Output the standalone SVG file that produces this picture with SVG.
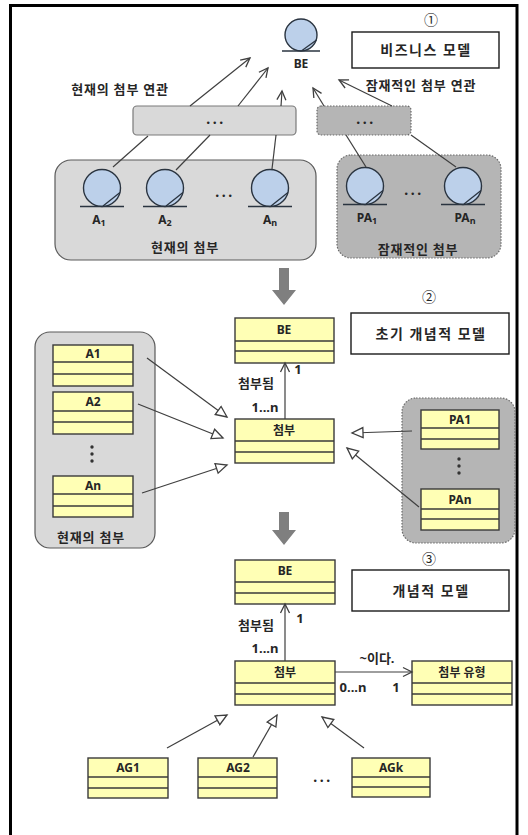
<svg xmlns="http://www.w3.org/2000/svg" width="528" height="835" viewBox="0 0 528 835">
<style>
text{font-family:"Noto Sans","Noto Sans CJK KR",sans-serif;font-weight:bold;fill:#262626;text-anchor:middle}
.t12{font-size:12px}.t13{font-size:13px}.t10{font-size:10px}.t11{font-size:11px}
.ttl{font-size:14px;letter-spacing:1.5px}
.lbl{font-size:13px;letter-spacing:0.8px}
.cn{font-size:12px}
.num{font-size:14px;font-weight:normal}
.dots{font-size:14px;letter-spacing:2.5px}
.cls rect{fill:#ffffb5;stroke:#3a3a3a;stroke-width:1.4}
.cls line{stroke:#3a3a3a;stroke-width:1.4}
.ent circle{fill:#bcd0ea;stroke:#2a3440;stroke-width:1.4}
.ent line{stroke:#2a3440;stroke-width:1.3}
.grpL{fill:#d9d9d9;stroke:#5a5a5a;stroke-width:1.2}
.grpR{fill:#b5b5b5;stroke:#6a6a6a;stroke-width:1.2;stroke-dasharray:1.5 1.5}
.title rect{fill:#fff;stroke:#1a1a1a;stroke-width:1.4}
.conn{stroke:#3f3f3f;stroke-width:1.2;fill:none}
.gray{fill:#7f7f7f}
</style>
<defs>
<marker id="open" markerUnits="userSpaceOnUse" markerWidth="12" markerHeight="12" refX="10" refY="5" orient="auto" viewBox="0 0 12 10"><path d="M1,0.5 L10,5 L1,9.5" fill="none" stroke="#3f3f3f" stroke-width="1.3"/></marker>
<marker id="tri" markerUnits="userSpaceOnUse" markerWidth="14" markerHeight="14" refX="12" refY="6" orient="auto" viewBox="0 0 14 12"><path d="M1,1 L12,6 L1,11 Z" fill="#fff" stroke="#3f3f3f" stroke-width="1.3"/></marker>
</defs>
<rect x="10.5" y="5.5" width="506.5" height="840" fill="none" stroke="#000" stroke-width="3"/>

<!-- Stage 1 -->
<g id="stage1-label"><text x="431" y="25" class="num">①</text></g>
<g id="title1" class="title"><rect x="352" y="32" width="147" height="36"/><text x="426" y="55" class="ttl">비즈니스 모델</text></g>
<g id="BE-entity" class="ent"><circle cx="301" cy="35" r="16"/><line x1="282" y1="51" x2="320" y2="51"/><line x1="302" y1="50.5" x2="316.5" y2="40"/><text x="301" y="68" class="cn">BE</text></g>
<g id="lbl-cur-assoc"><text x="120" y="94" class="lbl">현재의 첨부 연관</text></g>
<g id="lbl-pot-assoc"><text x="421" y="90" class="lbl">잠재적인 첨부 연관</text></g>
<g id="assoc-cur"><rect x="133" y="106" width="163" height="29" rx="4" class="grpL" style="stroke:#7a7a7a"/><text x="216" y="124" class="dots">...</text></g>
<g id="assoc-pot"><rect x="317" y="106" width="94" height="29" rx="4" class="grpR"/><text x="366" y="124" class="dots">...</text></g>
<g id="grp-cur"><rect x="55" y="160" width="261" height="100" rx="16" class="grpL"/><text x="185" y="252" class="lbl">현재의 첨부</text><text x="225" y="197" class="dots">...</text></g>
<g id="grp-pot"><rect x="337" y="155" width="164" height="103" rx="14" class="grpR"/><text x="418" y="254" class="lbl">잠재적인 첨부</text><text x="414" y="195" class="dots">...</text></g>
<g id="A1-entity" class="ent"><circle cx="102" cy="188" r="18.5"/><line x1="80" y1="206.5" x2="124" y2="206.5"/><line x1="103" y1="206" x2="120" y2="192.5"/><text x="99" y="224" class="cn">A<tspan font-size="9" dy="2">1</tspan></text></g>
<g id="A2-entity" class="ent"><circle cx="165" cy="188" r="18.5"/><line x1="143" y1="206.5" x2="187" y2="206.5"/><line x1="166" y1="206" x2="183" y2="192.5"/><text x="165" y="224" class="cn">A<tspan font-size="9" dy="2">2</tspan></text></g>
<g id="An-entity" class="ent"><circle cx="270" cy="188" r="18.5"/><line x1="248" y1="206.5" x2="292" y2="206.5"/><line x1="271" y1="206" x2="288" y2="192.5"/><text x="270" y="224" class="cn">A<tspan font-size="9" dy="2">n</tspan></text></g>
<g id="PA1-entity" class="ent"><circle cx="365" cy="186" r="18.5"/><line x1="343" y1="204.5" x2="387" y2="204.5"/><line x1="366" y1="204" x2="383" y2="190.5"/><text x="367" y="222" class="cn">PA<tspan font-size="9" dy="2">1</tspan></text></g>
<g id="PAn-entity" class="ent"><circle cx="463" cy="186" r="18.5"/><line x1="441" y1="204.5" x2="485" y2="204.5"/><line x1="464" y1="204" x2="481" y2="190.5"/><text x="465" y="222" class="cn">PA<tspan font-size="9" dy="2">n</tspan></text></g>

<!-- Stage 2 -->
<g id="stage2-label"><text x="429" y="302" class="num">②</text></g>
<g id="title2" class="title"><rect x="351" y="313" width="158" height="41"/><text x="431" y="339" class="ttl">초기 개념적 모델</text></g>
<g id="BE2" class="cls"><rect x="235" y="318" width="99" height="45"/><line x1="235" y1="341" x2="334" y2="341"/><line x1="235" y1="351" x2="334" y2="351"/><text x="284" y="334" class="cn">BE</text></g>
<g id="Att2" class="cls"><rect x="235" y="419" width="99" height="44"/><line x1="235" y1="441" x2="334" y2="441"/><line x1="235" y1="452" x2="334" y2="452"/><text x="284" y="435" class="cn">첨부</text></g>
<g id="grp-cur2"><rect x="35" y="332" width="120" height="216" rx="15" class="grpL"/><text x="91" y="542" class="lbl">현재의 첨부</text><circle cx="92" cy="447" r="1.7" fill="#333"/><circle cx="92" cy="454" r="1.7" fill="#333"/><circle cx="92" cy="461" r="1.7" fill="#333"/></g>
<g id="A1c" class="cls"><rect x="53" y="345" width="80" height="41"/><line x1="53" y1="362" x2="133" y2="362"/><line x1="53" y1="374" x2="133" y2="374"/><text x="93" y="358" class="cn">A1</text></g>
<g id="A2c" class="cls"><rect x="53" y="392" width="80" height="42"/><line x1="53" y1="411" x2="133" y2="411"/><line x1="53" y1="422" x2="133" y2="422"/><text x="93" y="406" class="cn">A2</text></g>
<g id="Anc" class="cls"><rect x="53" y="476" width="80" height="41"/><line x1="53" y1="494" x2="133" y2="494"/><line x1="53" y1="506" x2="133" y2="506"/><text x="93" y="490" class="cn">An</text></g>
<g id="grp-pot2"><rect x="402" y="398" width="113" height="145" rx="14" class="grpR"/><circle cx="459" cy="459" r="1.7" fill="#333"/><circle cx="459" cy="466" r="1.7" fill="#333"/><circle cx="459" cy="473" r="1.7" fill="#333"/></g>
<g id="PA1c" class="cls"><rect x="421" y="410" width="78" height="39"/><line x1="421" y1="428" x2="499" y2="428"/><line x1="421" y1="439" x2="499" y2="439"/><text x="460" y="424" class="cn">PA1</text></g>
<g id="PAnc" class="cls"><rect x="421" y="489" width="78" height="41"/><line x1="421" y1="509" x2="499" y2="509"/><line x1="421" y1="519" x2="499" y2="519"/><text x="460" y="504" class="cn">PAn</text></g>

<!-- Stage 3 -->
<g id="stage3-label"><text x="429" y="564" class="num">③</text></g>
<g id="title3" class="title"><rect x="352" y="570" width="157" height="41"/><text x="431" y="596" class="ttl">개념적 모델</text></g>
<g id="BE3" class="cls"><rect x="235" y="560" width="100" height="44"/><line x1="235" y1="582" x2="335" y2="582"/><line x1="235" y1="593" x2="335" y2="593"/><text x="285" y="575" class="cn">BE</text></g>
<g id="Att3" class="cls"><rect x="235" y="661" width="100" height="44"/><line x1="235" y1="683" x2="335" y2="683"/><line x1="235" y1="694" x2="335" y2="694"/><text x="285" y="677" class="cn">첨부</text></g>
<g id="AttType" class="cls"><rect x="412" y="661" width="100" height="44"/><line x1="412" y1="683" x2="512" y2="683"/><line x1="412" y1="694" x2="512" y2="694"/><text x="462" y="677" class="cn">첨부 유형</text></g>
<g id="AG1" class="cls"><rect x="88" y="758" width="80" height="40"/><line x1="88" y1="777" x2="168" y2="777"/><line x1="88" y1="788" x2="168" y2="788"/><text x="128" y="772" class="cn">AG1</text></g>
<g id="AG2" class="cls"><rect x="198" y="758" width="79" height="40"/><line x1="198" y1="777" x2="277" y2="777"/><line x1="198" y1="788" x2="277" y2="788"/><text x="238" y="772" class="cn">AG2</text></g>
<g id="AGk" class="cls"><rect x="352" y="758" width="78" height="39"/><line x1="352" y1="777" x2="430" y2="777"/><line x1="352" y1="787" x2="430" y2="787"/><text x="391" y="772" class="cn">AGk</text></g>
<g id="ag-dots"><text x="323" y="782" class="dots">...</text></g>

<!-- block arrows -->
<g id="step-arrow1"><path class="gray" d="M279,268 H289 V290 H296 L284,305 L272,290 H279 Z"/></g>
<g id="step-arrow2"><path class="gray" d="M279,512 H289 V530 H296 L284,545 L272,530 H279 Z"/></g>

<g id="connectors">
<line class="conn" x1="190" y1="106" x2="250" y2="58" marker-end="url(#open)"/>
<line class="conn" x1="238" y1="106" x2="268" y2="68" marker-end="url(#open)"/>
<line class="conn" x1="281" y1="106" x2="282" y2="91" marker-end="url(#open)"/>
<line class="conn" x1="324" y1="106" x2="313" y2="88" marker-end="url(#open)"/>
<line class="conn" x1="392" y1="106" x2="339" y2="80" marker-end="url(#open)"/>
<line class="conn" x1="148" y1="136" x2="113" y2="167"/>
<line class="conn" x1="210" y1="135" x2="176" y2="170"/>
<line class="conn" x1="276" y1="135" x2="272" y2="169"/>
<line class="conn" x1="346" y1="135" x2="366" y2="167"/>
<line class="conn" x1="411" y1="135" x2="456" y2="167"/>

<line class="conn" x1="285" y1="419" x2="285" y2="363" marker-end="url(#open)"/>
<line class="conn" x1="147" y1="358" x2="227" y2="417" marker-end="url(#tri)"/>
<line class="conn" x1="138" y1="404" x2="223" y2="438" marker-end="url(#tri)"/>
<line class="conn" x1="142" y1="493" x2="227" y2="465" marker-end="url(#tri)"/>
<line class="conn" x1="412" y1="431" x2="352" y2="433" marker-end="url(#tri)"/>
<line class="conn" x1="419" y1="507" x2="347" y2="448" marker-end="url(#tri)"/>

<line class="conn" x1="285" y1="661" x2="285" y2="604" marker-end="url(#open)"/>
<line class="conn" x1="335" y1="672" x2="412" y2="672" marker-end="url(#open)"/>
<line class="conn" x1="167" y1="748" x2="227" y2="715" marker-end="url(#tri)"/>
<line class="conn" x1="253" y1="757" x2="277" y2="715" marker-end="url(#tri)"/>
<line class="conn" x1="364" y1="748" x2="322" y2="717" marker-end="url(#tri)"/>
</g>

<g id="labels">
<text x="298" y="374" class="t13">1</text>
<text x="256" y="388" class="t13">첨부됨</text>
<text x="265" y="412" class="t13">1...n</text>
<text x="300" y="623" class="t13">1</text>
<text x="256" y="630" class="t13">첨부됨</text>
<text x="265" y="653" class="t13">1...n</text>
<text x="377" y="663" class="t13">~이다.</text>
<text x="353" y="692" class="t13">0...n</text>
<text x="396" y="692" class="t13">1</text>
</g>
</svg>
